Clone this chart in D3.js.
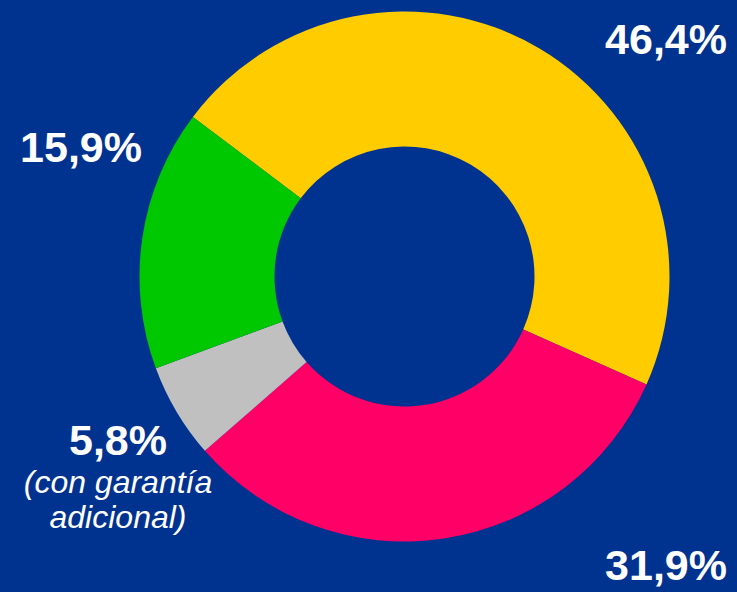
<!DOCTYPE html>
<html>
<head>
<meta charset="utf-8">
<script src="https://cdn.jsdelivr.net/npm/d3@7"></script>
<style>
  html, body { margin: 0; padding: 0; background: #003290; }
</style>
</head>
<body>
<div id="chart-area"></div>
<script>
// slices, clockwise from the upper left
var categories = ["Amarillo", "Rosa", "Gris", "Verde"];
var values = [46.4, 31.9, 5.8, 15.9];
var valueLabels = ["46,4%", "31,9%", "5,8%", "15,9%"];
var noteLines = ["(con garantía", "adicional)"];

var colors = ["#ffcc00", "#ff0066", "#c0c0c0", "#00c800"];

var width = 737;
var height = 592;
var cx = 404.5, cy = 276.5;
var outerR = 265, innerR = 130;

// where each label sits: [x, baseline y, anchor]
var labelPos = [
	[727, 54, "end"],
	[727, 580, "end"],
	[118, 455, "middle"],
	[142, 162, "end"]
];

var svg = d3.select("#chart-area").append("svg")
	.attr("width", width)
	.attr("height", height)
	.style("display", "block");

svg.append("rect")
	.attr("width", width)
	.attr("height", height)
	.attr("fill", "#003290");

var g = svg.append("g")
	.attr("transform", "translate(" + cx + ", " + cy + ")");

var start = -53 * Math.PI / 180;
var pie = d3.pie()
	.sort(null)
	.value((d) => d)
	.startAngle(start)
	.endAngle(start + 2 * Math.PI);

var arc = d3.arc()
	.innerRadius(innerR)
	.outerRadius(outerR);

g.selectAll("path")
	.data(pie(values))
	.enter().append("path")
	.attr("d", arc)
	.attr("fill", (d, i) => colors[i]);

svg.selectAll("text.pct")
	.data(valueLabels)
	.enter().append("text")
	.attr("class", "pct")
	.attr("x", (d, i) => labelPos[i][0])
	.attr("y", (d, i) => labelPos[i][1])
	.attr("text-anchor", (d, i) => labelPos[i][2])
	.attr("font-family", "'Liberation Sans', Arial, sans-serif")
	.attr("font-weight", "bold")
	.attr("font-size", "43px")
	.attr("fill", "white")
	.text((d) => d);

svg.selectAll("text.note")
	.data(noteLines)
	.enter().append("text")
	.attr("class", "note")
	.attr("x", labelPos[2][0])
	.attr("y", (d, i) => 493 + i * 35)
	.attr("text-anchor", "middle")
	.attr("font-family", "'Liberation Sans', Arial, sans-serif")
	.attr("font-style", "italic")
	.attr("font-size", "32px")
	.attr("fill", "white")
	.text((d) => d);
</script>
</body>
</html>
